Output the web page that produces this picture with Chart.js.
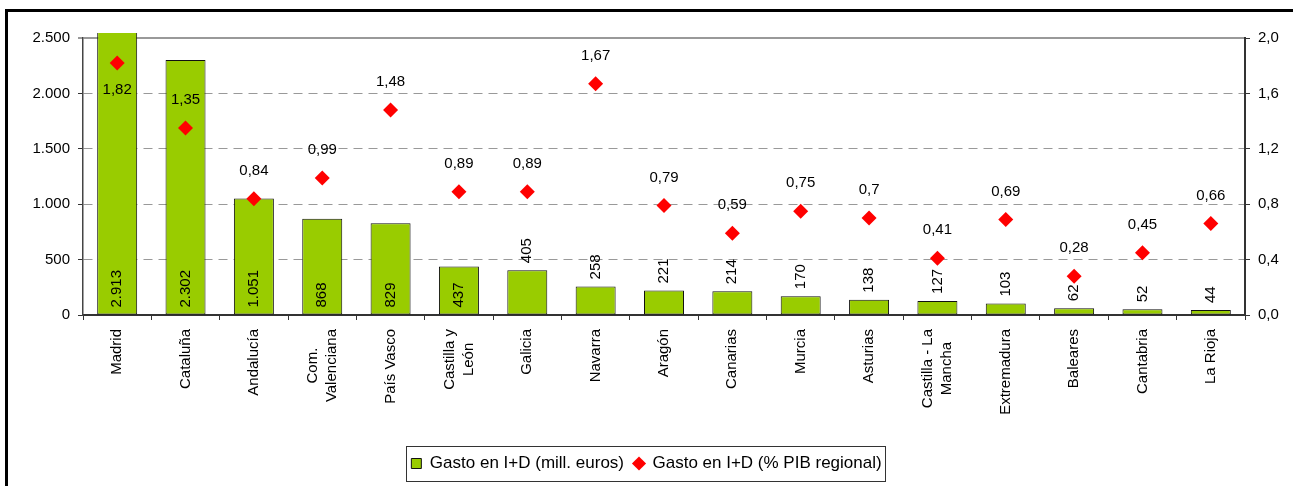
<!DOCTYPE html>
<html>
<head>
<meta charset="utf-8">
<script src="https://cdn.jsdelivr.net/npm/chart.js@4/dist/chart.umd.min.js"></script>
<style>
  html, body { margin: 0; padding: 0; background: #fff; overflow: hidden; }
  canvas { display: block; }
</style>
</head>
<body>
<canvas id="c" width="1293" height="486"></canvas>
<script>
// ---- Data ----
const categories = ['Madrid', 'Cataluña', 'Andalucía', ['Com.', 'Valenciana'], 'País Vasco',
  ['Castilla y', 'León'], 'Galicia', 'Navarra', 'Aragón', 'Canarias', 'Murcia', 'Asturias',
  ['Castilla - La', 'Mancha'], 'Extremadura', 'Baleares', 'Cantabria', 'La Rioja'];
const gastoMillEuros = [2913, 2302, 1051, 868, 829, 437, 405, 258, 221, 214, 170, 138, 127, 103, 62, 52, 44];
const gastoPctPIB = [1.82, 1.35, 0.84, 0.99, 1.48, 0.89, 0.89, 1.67, 0.79, 0.59, 0.75, 0.70, 0.41, 0.69, 0.28, 0.45, 0.66];
const seriesNames = ['Gasto en I+D (mill. euros)', 'Gasto en I+D (% PIB regional)'];
const leftTicks = { min: 0, max: 2500, step: 500 };
const rightTicks = { min: 0, max: 2, step: 0.4 };

// ---- Formatting helpers ----
const FONT = "'Liberation Sans', Arial, Helvetica, sans-serif";
const fmtThousands = v => String(Math.round(v)).replace(/\B(?=(\d{3})+(?!\d))/g, '.');
const fmtDec = v => String(v).replace('.', ',');
const INSIDE_MIN = 430; // bars at least this tall carry their label inside the base

Chart.defaults.font.family = FONT;
Chart.defaults.font.size = 15;
Chart.defaults.color = '#000';

const framePlugin = {
  id: 'frame',
  beforeDraw(chart) {
    const ctx = chart.ctx;
    ctx.save();
    ctx.fillStyle = '#fff';
    ctx.fillRect(0, 0, chart.width, chart.height);
    ctx.fillStyle = '#000';
    ctx.fillRect(5, 9, 3, chart.height);
    ctx.fillRect(5, 9, chart.width, 3);
    ctx.restore();
  }
};

const labelPlugin = {
  id: 'valueLabels',
  afterDatasetsDraw(chart) {
    const ctx = chart.ctx;
    const area = chart.chartArea;
    const barMeta = chart.getDatasetMeta(0);
    const ptMeta = chart.getDatasetMeta(1);
    ctx.save();
    ctx.fillStyle = '#000';
    ctx.font = '15px ' + FONT;
    // bar labels, rotated
    barMeta.data.forEach((bar, i) => {
      const v = gastoMillEuros[i];
      const startY = v >= INSIDE_MIN ? bar.base - 7 : Math.max(bar.y, area.top) - 7;
      ctx.save();
      ctx.translate(bar.x, startY);
      ctx.rotate(-Math.PI / 2);
      ctx.textAlign = 'left';
      ctx.textBaseline = 'middle';
      ctx.fillText(fmtThousands(v), 0, 0);
      ctx.restore();
    });
    // point labels
    ptMeta.data.forEach((pt, i) => {
      let y = pt.y - 28;
      if (y - 8 < area.top) y = pt.y + 27;
      ctx.textAlign = 'center';
      ctx.textBaseline = 'middle';
      ctx.fillText(fmtDec(gastoPctPIB[i]), pt.x, y);
    });
    ctx.restore();
  },
  afterDraw(chart) {
    const ctx = chart.ctx;
    const area = chart.chartArea;
    const xs = chart.scales.x;
    ctx.save();
    ctx.fillStyle = '#000';
    ctx.font = '15px ' + FONT;
    categories.forEach((c, i) => {
      const lines = Array.isArray(c) ? c : [c];
      const x = xs.getPixelForValue(i);
      const W = Math.max(...lines.map(l => ctx.measureText(l).width));
      ctx.save();
      ctx.translate(x, area.bottom + 14);
      ctx.rotate(-Math.PI / 2);
      ctx.textAlign = 'center';
      ctx.textBaseline = 'middle';
      lines.forEach((l, j) => ctx.fillText(l, -W / 2, (j - (lines.length - 1) / 2) * 19));
      ctx.restore();
    });
    // legend frame
    const lg = chart.legend;
    if (lg && lg.legendHitBoxes && lg.legendHitBoxes.length) {
      const hb = lg.legendHitBoxes;
      const l = Math.min(...hb.map(h => h.left)) - 5;
      const r = Math.max(...hb.map(h => h.left + h.width)) + 4;
      const t = Math.min(...hb.map(h => h.top)) - 9;
      const b = Math.max(...hb.map(h => h.top + h.height)) + 9;
      ctx.strokeStyle = '#333';
      ctx.lineWidth = 1;
      ctx.strokeRect(Math.round(l) + 0.5, Math.round(t) + 0.5, Math.round(r - l), Math.round(b - t));
    }
    ctx.restore();
  }
};

new Chart(document.getElementById('c'), {
  data: {
    labels: categories.map(c => Array.isArray(c) ? c.join(' ') : c),
    datasets: [
      {
        type: 'bar',
        label: seriesNames[0],
        data: gastoMillEuros,
        yAxisID: 'y',
        backgroundColor: '#99CC00',
        borderColor: '#111',
        borderWidth: 1,
        borderSkipped: false,
        barPercentage: 0.585,
        categoryPercentage: 1,
        pointStyle: 'rect',
        order: 2,
        clip: { left: 0, top: 5, right: 0, bottom: 0 }
      },
      {
        type: 'line',
        label: seriesNames[1],
        data: gastoPctPIB,
        yAxisID: 'y1',
        showLine: false,
        borderWidth: 0,
        backgroundColor: '#FF0000',
        borderColor: '#FF0000',
        pointStyle: 'rectRot',
        pointRadius: 7.5,
        pointHoverRadius: 7.5,
        pointBackgroundColor: '#FF0000',
        pointBorderWidth: 0,
        order: 1
      }
    ]
  },
  options: {
    responsive: false,
    animation: false,
    devicePixelRatio: 1,
    layout: { padding: { top: 38, bottom: 4, left: 0, right: 0 } },
    plugins: {
      legend: {
        position: 'bottom',
        labels: {
          usePointStyle: true,
          boxWidth: 10,
          boxHeight: 10,
          padding: 10,
          color: '#000',
          font: { size: 17, family: FONT },
          sort: (a, b) => a.datasetIndex - b.datasetIndex
        }
      },
      tooltip: { enabled: false },
      title: { display: false }
    },
    scales: {
      x: {
        offset: true,
        grid: { drawOnChartArea: false, drawTicks: true, tickLength: 5, tickColor: '#333', tickWidth: 1 },
        border: { display: true, color: '#333', width: 2 },
        ticks: { display: false },
        afterFit(scale) { scale.height = 130; }
      },
      y: {
        position: 'left',
        min: leftTicks.min,
        max: leftTicks.max,
        ticks: {
          stepSize: leftTicks.step,
          padding: 8,
          color: '#000',
          font: { size: 15 },
          callback: v => fmtThousands(v)
        },
        grid: {
          drawTicks: true,
          tickLength: 5,
          tickColor: '#333',
          tickWidth: 1,
          color: '#999',
          lineWidth: c => (c.tick && c.tick.value === leftTicks.max) ? 2 : 1
        },
        border: {
          display: true,
          color: '#444',
          width: 1.5,
          dash: c => (c.tick && c.tick.value === leftTicks.max) ? [] : [9, 6]
        },
        afterFit(scale) { scale.width = 83; }
      },
      y1: {
        position: 'right',
        min: rightTicks.min,
        max: rightTicks.max,
        ticks: {
          stepSize: rightTicks.step,
          padding: 8,
          color: '#000',
          font: { size: 15 },
          callback: v => v.toFixed(1).replace('.', ',')
        },
        grid: { drawOnChartArea: false, drawTicks: true, tickLength: 5, tickColor: '#333', tickWidth: 1 },
        border: { display: true, color: '#333', width: 2 },
        afterFit(scale) { scale.width = 48; }
      }
    }
  },
  plugins: [framePlugin, labelPlugin]
});
</script>
</body>
</html>
